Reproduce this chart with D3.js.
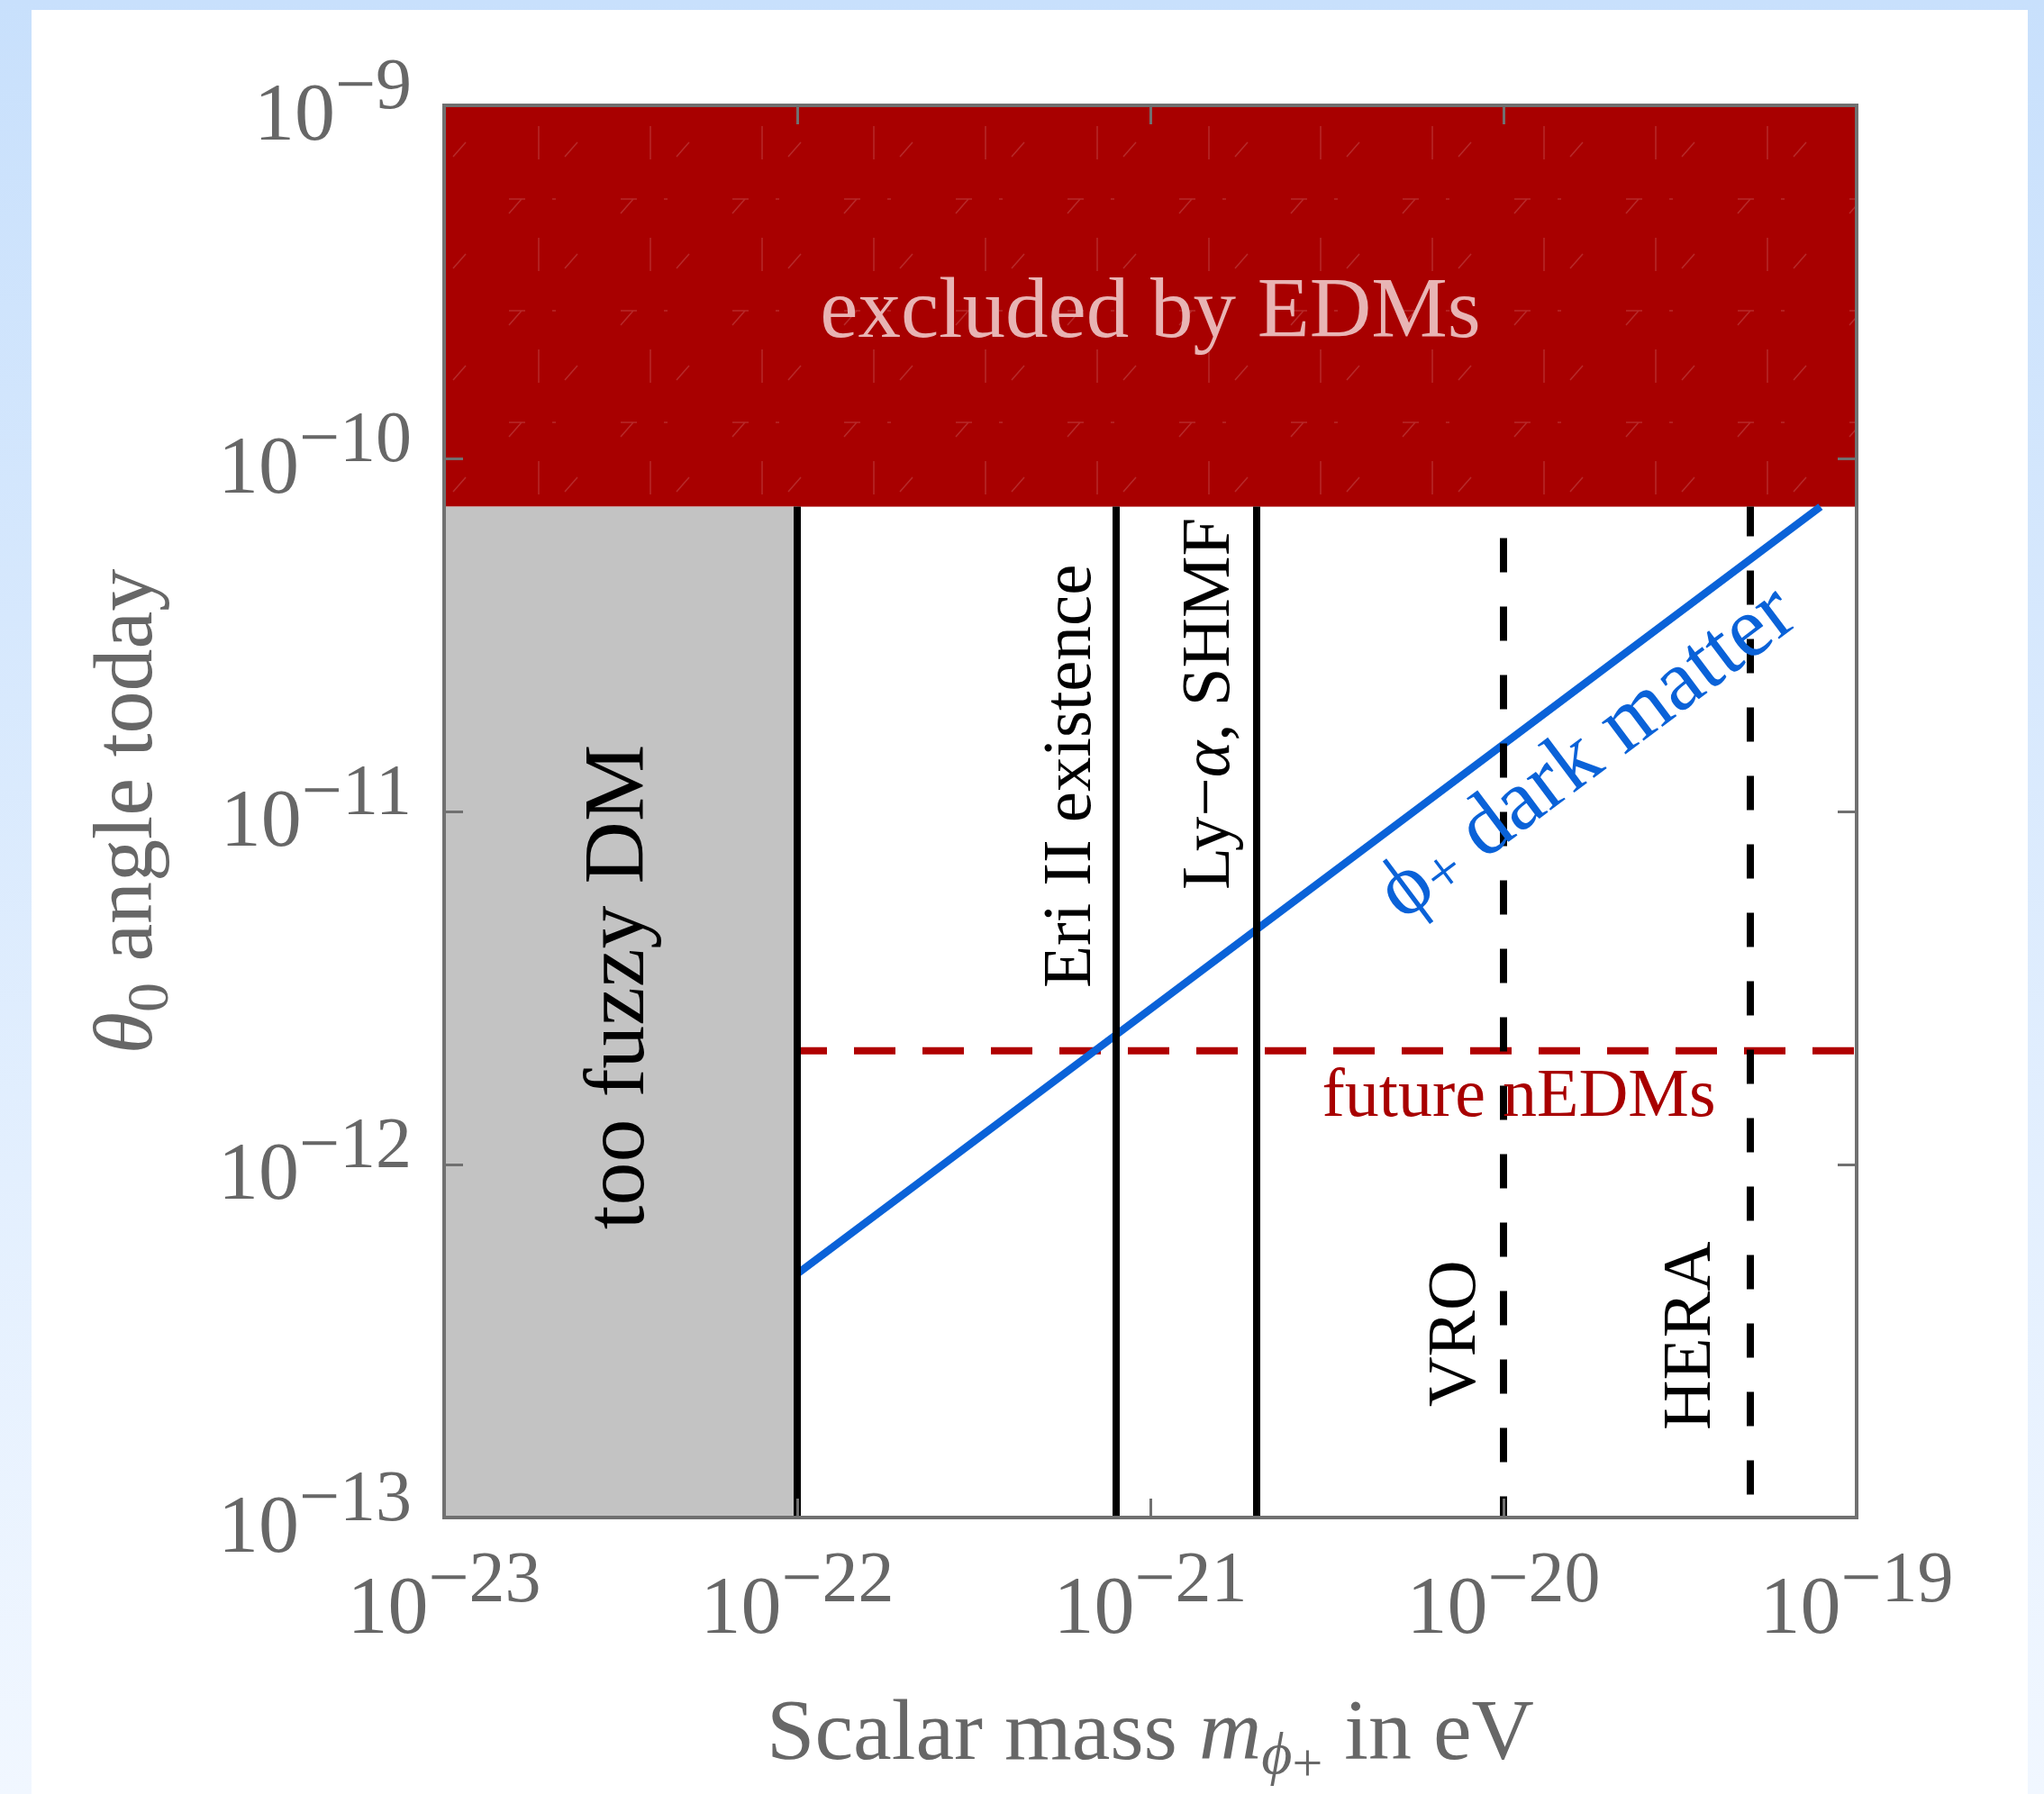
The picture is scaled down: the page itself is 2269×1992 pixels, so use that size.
<!DOCTYPE html>
<html lang="en">
<head>
<meta charset="UTF-8">
<title>Scalar dark matter and EDM bounds</title>
<script src="https://d3js.org/d3.v7.min.js"></script>
<style>
  html, body { margin: 0; padding: 0; }
  body { width: 2269px; height: 1992px; overflow: hidden; }
  text { font-family: "Liberation Serif", "DejaVu Serif", serif; }
</style>
</head>
<body>
<div id="chart"></div>
<script>
// axis ranges and ticks
var xDomain = [1e-23, 1e-19];
var yDomain = [1e-13, 1e-9];
var xTickExp = [-23, -22, -21, -20, -19];
var yTickExp = [-13, -12, -11, -10, -9];

// shaded regions
var edmLimit = 7.3e-11;      // excluded by EDMs above this
var fuzzyLimit = 1e-22;      // too fuzzy DM below this mass

// vertical bounds on the mass
var boundNames  = ["Eri II existence", "Ly\u2212\u03b1, SHMF", "VRO", "HERA"];
var boundMass   = [8.0e-22, 2.0e-21, 1e-20, 5e-20];
var boundDashed = [false, false, true, true];

// future nEDM reach
var futureNEDM = 2.1e-12;

// phi+ dark matter line
var dmMass  = [1e-22, 7.9e-20];
var dmTheta = [4.9e-13, 7.3e-11];

var width = 2269, height = 1992;
var plotLeft = 493, plotTop = 117, size = 1568;

var x = d3.scaleLog().domain(xDomain).range([plotLeft, plotLeft + size]);
var y = d3.scaleLog().domain(yDomain).range([plotTop + size, plotTop]);

var svg = d3.select("#chart").append("svg")
    .attr("width", width)
    .attr("height", height);

var defs = svg.append("defs");

// page background
var grad = defs.append("linearGradient")
    .attr("id", "bg").attr("x1", 0).attr("y1", 0).attr("x2", 0).attr("y2", 1);
grad.append("stop").attr("offset", "0%").attr("stop-color", "#c8e0fc");
grad.append("stop").attr("offset", "100%").attr("stop-color", "#f1f7ff");

defs.append("clipPath").attr("id", "plotclip")
    .append("rect").attr("x", plotLeft).attr("y", plotTop).attr("width", size).attr("height", size);

// faint mesh texture seen on the filled regions
var pat = defs.append("pattern")
    .attr("id", "mesh")
    .attr("patternUnits", "userSpaceOnUse")
    .attr("x", plotLeft).attr("y", plotTop)
    .attr("width", 124).attr("height", 124);
pat.append("path")
    .attr("d", "M105,23v37 M72,104h18 M120,104h18 M10,57l14,-16 M72,120l14,-16")
    .attr("stroke", "white")
    .attr("stroke-opacity", 0.16)
    .attr("stroke-width", 1.5)
    .attr("fill", "none");

svg.append("rect").attr("width", width).attr("height", height).attr("fill", "url(#bg)");
svg.append("rect").attr("x", 35).attr("y", 11).attr("width", 2216).attr("height", height - 11).attr("fill", "white");

var plotArea = svg.append("g").attr("clip-path", "url(#plotclip)");

// excluded by EDMs
plotArea.append("rect")
    .attr("x", x(xDomain[0]))
    .attr("y", y(yDomain[1]))
    .attr("width", x(xDomain[1]) - x(xDomain[0]))
    .attr("height", y(edmLimit) - y(yDomain[1]))
    .attr("fill", "#a80000");

// too fuzzy DM
plotArea.append("rect")
    .attr("x", x(xDomain[0]))
    .attr("y", y(edmLimit))
    .attr("width", x(fuzzyLimit) - x(xDomain[0]))
    .attr("height", y(yDomain[0]) - y(edmLimit))
    .attr("fill", "#c3c3c3");

plotArea.append("rect")
    .attr("x", x(xDomain[0]))
    .attr("y", y(yDomain[1]))
    .attr("width", x(xDomain[1]) - x(xDomain[0]))
    .attr("height", y(edmLimit) - y(yDomain[1]))
    .attr("fill", "url(#mesh)");

// future nEDMs
plotArea.append("line")
    .attr("x1", x(fuzzyLimit)).attr("x2", x(xDomain[1]))
    .attr("y1", y(futureNEDM)).attr("y2", y(futureNEDM))
    .attr("stroke", "#b00000")
    .attr("stroke-width", 8)
    .attr("stroke-dasharray", "46 30")
    .attr("stroke-dashoffset", 13);

// phi+ dark matter line
var dmLine = d3.line()
    .x(function(d) { return x(d[0]); })
    .y(function(d) { return y(d[1]); });
plotArea.append("path")
    .datum(d3.zip(dmMass, dmTheta))
    .attr("d", dmLine)
    .attr("fill", "none")
    .attr("stroke", "#0a62d8")
    .attr("stroke-width", 8.5);

// fuzzy limit and vertical bounds
plotArea.append("line")
    .attr("x1", x(fuzzyLimit)).attr("x2", x(fuzzyLimit))
    .attr("y1", y(edmLimit)).attr("y2", y(yDomain[0]))
    .attr("stroke", "black").attr("stroke-width", 8);

var dashOffsets = [0, 0, 41, 5];
boundMass.forEach(function(m, i) {
    var l = plotArea.append("line")
        .attr("x1", x(m)).attr("x2", x(m))
        .attr("y1", y(edmLimit)).attr("y2", y(yDomain[0]))
        .attr("stroke", "black").attr("stroke-width", 8);
    if (boundDashed[i]) {
        l.attr("stroke-dasharray", "38 38").attr("stroke-dashoffset", dashOffsets[i]);
    }
});

// ticks, inside the frame on all four sides
var tickColor = "#707070";
var xTicks = xTickExp.map(function(e) { return Math.pow(10, e); });
var yTicks = yTickExp.map(function(e) { return Math.pow(10, e); });

function styleTicks(g) {
    g.select(".domain").remove();
    g.selectAll(".tick line").attr("stroke", tickColor).attr("stroke-width", 3);
    g.selectAll(".tick text").remove();
}
svg.append("g").attr("transform", "translate(0," + (plotTop + size) + ")")
    .call(d3.axisBottom(x).tickValues(xTicks).tickSizeInner(-21).tickSizeOuter(0)).call(styleTicks);
svg.append("g").attr("transform", "translate(0," + plotTop + ")")
    .call(d3.axisTop(x).tickValues(xTicks).tickSizeInner(-21).tickSizeOuter(0)).call(styleTicks);
svg.append("g").attr("transform", "translate(" + plotLeft + ",0)")
    .call(d3.axisLeft(y).tickValues(yTicks).tickSizeInner(-21).tickSizeOuter(0)).call(styleTicks);
svg.append("g").attr("transform", "translate(" + (plotLeft + size) + ",0)")
    .call(d3.axisRight(y).tickValues(yTicks).tickSizeInner(-21).tickSizeOuter(0)).call(styleTicks);

// frame
svg.append("rect")
    .attr("x", plotLeft).attr("y", plotTop).attr("width", size).attr("height", size)
    .attr("fill", "none").attr("stroke", tickColor).attr("stroke-width", 4);

// tick labels 10^n
function powerLabel(sel, e) {
    sel.append("tspan").text("10");
    sel.append("tspan").attr("dy", -35).attr("font-size", 80).text("\u2212" + Math.abs(e));
}
xTickExp.forEach(function(e) {
    svg.append("text")
        .attr("x", x(Math.pow(10, e))).attr("y", plotTop + size + 128)
        .attr("text-anchor", "middle")
        .attr("font-size", 90).attr("fill", "#676767")
        .call(powerLabel, e);
});
yTickExp.forEach(function(e) {
    svg.append("text")
        .attr("x", 457).attr("y", y(Math.pow(10, e)) + 38)
        .attr("text-anchor", "end")
        .attr("font-size", 90).attr("fill", "#676767")
        .call(powerLabel, e);
});

// axis titles
var xt = svg.append("text")
    .attr("x", plotLeft + size / 2).attr("y", 1953)
    .attr("text-anchor", "middle")
    .attr("font-size", 96).attr("fill", "#676767");
xt.append("tspan").text("Scalar mass ");
xt.append("tspan").attr("font-style", "italic").text("m");
xt.append("tspan").attr("font-style", "italic").attr("font-size", 66).attr("dy", 16).text("\u03d5");
xt.append("tspan").attr("font-size", 60).attr("dy", 8).text("+");
xt.append("tspan").attr("dy", -24).text(" in eV");

var yt = svg.append("text")
    .attr("transform", "translate(168," + (plotTop + size / 2) + ") rotate(-90)")
    .attr("text-anchor", "middle")
    .attr("font-size", 94).attr("fill", "#676767");
yt.append("tspan").attr("font-style", "italic").text("\u03b8");
yt.append("tspan").attr("font-size", 66).attr("dy", 18).text("0");
yt.append("tspan").attr("dy", -18).text(" angle today");

// region labels
svg.append("text")
    .attr("x", (x(xDomain[0]) + x(xDomain[1])) / 2).attr("y", 374)
    .attr("text-anchor", "middle")
    .attr("font-size", 95).attr("fill", "#e8b4b4")
    .text("excluded by EDMs");

svg.append("text")
    .attr("transform", "translate(714,1096) rotate(-90)")
    .attr("text-anchor", "middle")
    .attr("font-size", 96).attr("fill", "black")
    .text("too fuzzy DM");

// labels of the vertical bounds: [pixels left of line, baseline start y]
var boundLabelPos = [[29, 1097], [31, 988], [32, 1562], [45, 1588]];
boundNames.forEach(function(name, i) {
    var t = svg.append("text")
        .attr("transform", "translate(" + (x(boundMass[i]) - boundLabelPos[i][0]) + "," + boundLabelPos[i][1] + ") rotate(-90)")
        .attr("font-size", 77).attr("fill", "black");
    if (name.indexOf("\u03b1") >= 0) {
        var parts = name.split("\u03b1");
        t.append("tspan").text(parts[0]);
        t.append("tspan").attr("font-style", "italic").text("\u03b1");
        t.append("tspan").text(parts[1]);
    } else {
        t.text(name);
    }
});

svg.append("text")
    .attr("x", 1686).attr("y", 1239)
    .attr("text-anchor", "middle")
    .attr("font-size", 76).attr("fill", "#a80000")
    .text("future nEDMs");

// phi+ dark matter label, parallel to the line
var lx = 1.38e-20;
var ly = Math.exp(Math.log(dmTheta[0]) + (Math.log(lx) - Math.log(dmMass[0])) *
    (Math.log(dmTheta[1]) - Math.log(dmTheta[0])) / (Math.log(dmMass[1]) - Math.log(dmMass[0])));
var angle = Math.atan2(y(dmTheta[1]) - y(dmTheta[0]), x(dmMass[1]) - x(dmMass[0])) * 180 / Math.PI;
var off = 90;
var dt = svg.append("text")
    .attr("transform", "translate(" + (x(lx) + 0.6 * off) + "," + (y(ly) + 0.8 * off) + ") rotate(" + angle + ")")
    .attr("text-anchor", "middle")
    .attr("font-size", 96).attr("fill", "#0a62d8");
dt.append("tspan").text("\u03d5");
dt.append("tspan").attr("font-size", 68).attr("dy", 6).text("+");
dt.append("tspan").attr("dy", -6).text(" dark matter");
</script>
</body>
</html>
